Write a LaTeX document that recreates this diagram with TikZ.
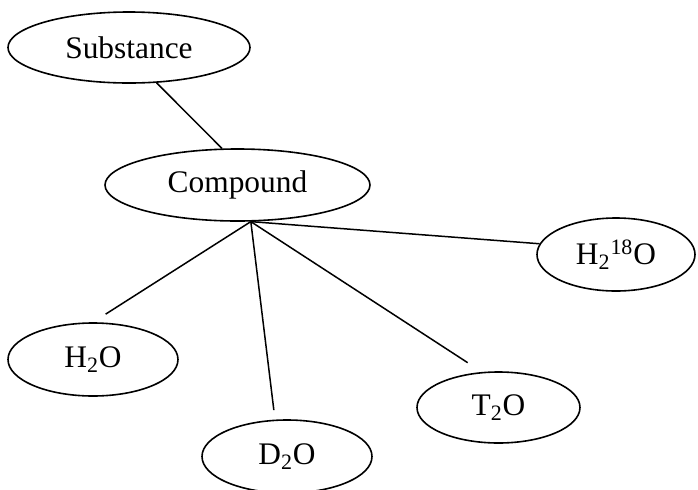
\documentclass[tikz,border=0pt]{standalone}
\usepackage{fontspec}
\setmainfont{Liberation Serif}
\usetikzlibrary{shapes.geometric}
\tikzset{
  molecule/.style={ellipse,draw,line width=0.8pt,inner sep=0pt,
    font=\fontsize{15.7}{18}\selectfont},
  bond/.style={line width=0.75pt}
}
\begin{document}
\begin{tikzpicture}[x=0.5pt,y=-0.5pt] % one unit = one pixel of the sketch

\useasboundingbox (0,0) rectangle (698,489);

\node[molecule,minimum width=121pt,minimum height=35.5pt] (substance) at (129,47.5) {Substance};
\node[molecule,minimum width=132.5pt,minimum height=36pt] (compound) at (237.5,185) {Compound};
\node[molecule,minimum width=85pt,minimum height=36.5pt] (water) at (93,359.5) {H\textsubscript{2}O};
\node[molecule,minimum width=85pt,minimum height=36.5pt] (heavy) at (287,456.5) {D\textsubscript{2}O};
\node[molecule,minimum width=81.5pt,minimum height=35.5pt] (tritiated) at (498.5,407.5) {T\textsubscript{2}O};
\node[molecule,minimum width=79pt,minimum height=36.5pt] (oxygen18) at (616,254.5) {H\textsubscript{2}\textsuperscript{18}O};

\draw[bond] (substance.-52) -- (compound.113);

% all isotopologues hang from one point under Compound
\coordinate (hub) at (compound.-70);
\draw[bond,shorten >=7.5pt] (hub) -- (water.north);
\draw[bond,shorten >=4.75pt] (hub) -- (heavy.108);
\draw[bond,shorten >=8.5pt] (hub) -- (tritiated.115);
\draw[bond] (hub) -- (oxygen18.172);

\end{tikzpicture}
\end{document}
